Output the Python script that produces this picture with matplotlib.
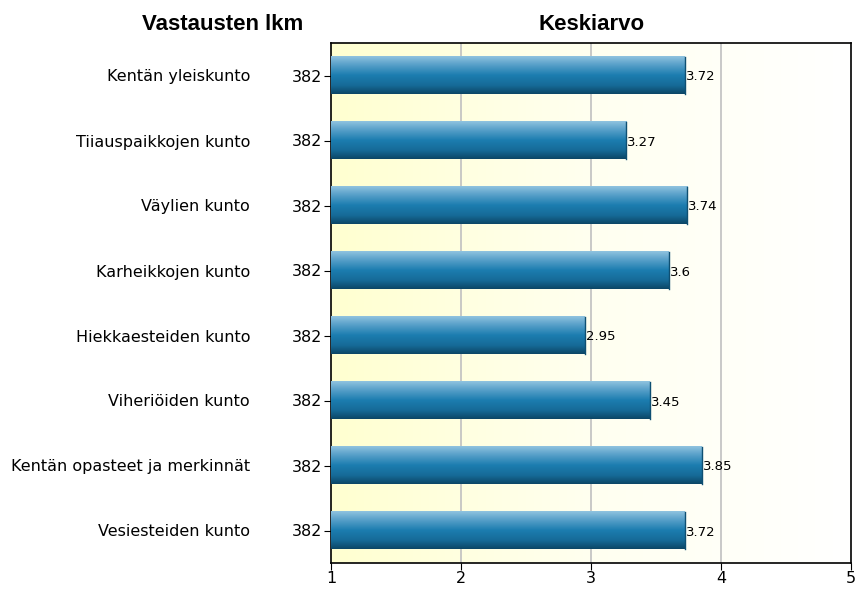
import numpy as np
import matplotlib
matplotlib.use("Agg")
import matplotlib.pyplot as plt
from matplotlib.colors import LinearSegmentedColormap
from matplotlib.transforms import blended_transform_factory

plt.rcParams['font.family'] = ['DejaVu Sans']

categories = ["Kentän yleiskunto", "Tiiauspaikkojen kunto", "Väylien kunto",
              "Karheikkojen kunto", "Hiekkaesteiden kunto", "Viheriöiden kunto",
              "Kentän opasteet ja merkinnät", "Vesiesteiden kunto"]
counts = [382, 382, 382, 382, 382, 382, 382, 382]
means = [3.72, 3.27, 3.74, 3.6, 2.95, 3.45, 3.85, 3.72]
xticks = [1, 2, 3, 4, 5]

fig = plt.figure(figsize=(8.55, 5.89), dpi=100)
ax = fig.add_axes([331/855, 26/589, 520/855, 520/589])

n = len(categories)
y = np.arange(n)
ax.set_xlim(1, 5)
ax.set_ylim(n - 0.5, -0.5)

# background gradient
bg = LinearSegmentedColormap.from_list("bg", ["#FFFFD0", "#FFFFF0", "#FFFFFF"])
ax.imshow(np.linspace(0, 1, 256).reshape(1, -1), cmap=bg, aspect='auto',
          extent=(1, 5, n - 0.5, -0.5), zorder=0)

for gx in xticks[1:-1]:
    ax.axvline(gx, color="#C0C0C0", lw=1.2, zorder=1)

bar_h = 0.57
bars = ax.barh(y, [m - 1 for m in means], left=1, height=bar_h,
               color="none", edgecolor="none", zorder=2)
barcm = LinearSegmentedColormap.from_list(
    "bar", [(0, "#8FC3DF"), (0.18, "#62A6CD"), (0.5, "#1C7DB0"),
            (0.78, "#166A97"), (1.0, "#0C4767")])
grad = np.linspace(0, 1, 64).reshape(-1, 1)
for b, m in zip(bars, means):
    x0, y0 = b.get_x(), b.get_y()
    w, h = b.get_width(), b.get_height()
    ax.imshow(grad, cmap=barcm, aspect='auto',
              extent=(x0, x0 + w, y0 + h, y0), zorder=3)
    ax.plot([x0 + w, x0 + w], [y0, y0 + h], color="#0E4F72", lw=1, zorder=4)
    ax.text(x0 + w + 0.008, y0 + h / 2, f"{m:g}", va='center_baseline', ha='left',
            fontsize=9.5, zorder=5)

ax.set_xticks(xticks)
ax.set_xticklabels([str(t) for t in xticks], fontsize=11.5)
ax.set_yticks(y)
ax.set_yticklabels([str(c) for c in counts], fontsize=11.5)
ax.tick_params(axis='y', length=5, pad=1)
ax.tick_params(axis='x', length=5, pad=1)
for s in ax.spines.values():
    s.set_color("#000000")
    s.set_linewidth(1.2)

trans = blended_transform_factory(fig.transFigure, ax.transData)
for i, c in enumerate(categories):
    fig.text(250/855, i, c, transform=trans, ha='right', va='center_baseline',
             fontsize=11.5)

fig.text(223/855, 1 - 24/589, "Vastausten lkm", ha='center', va='center',
         fontsize=16, fontweight='bold', family='Liberation Sans')
fig.text(592/855, 1 - 24/589, "Keskiarvo", ha='center', va='center',
         fontsize=16, fontweight='bold', family='Liberation Sans')

fig.savefig("out.png", dpi=100)
